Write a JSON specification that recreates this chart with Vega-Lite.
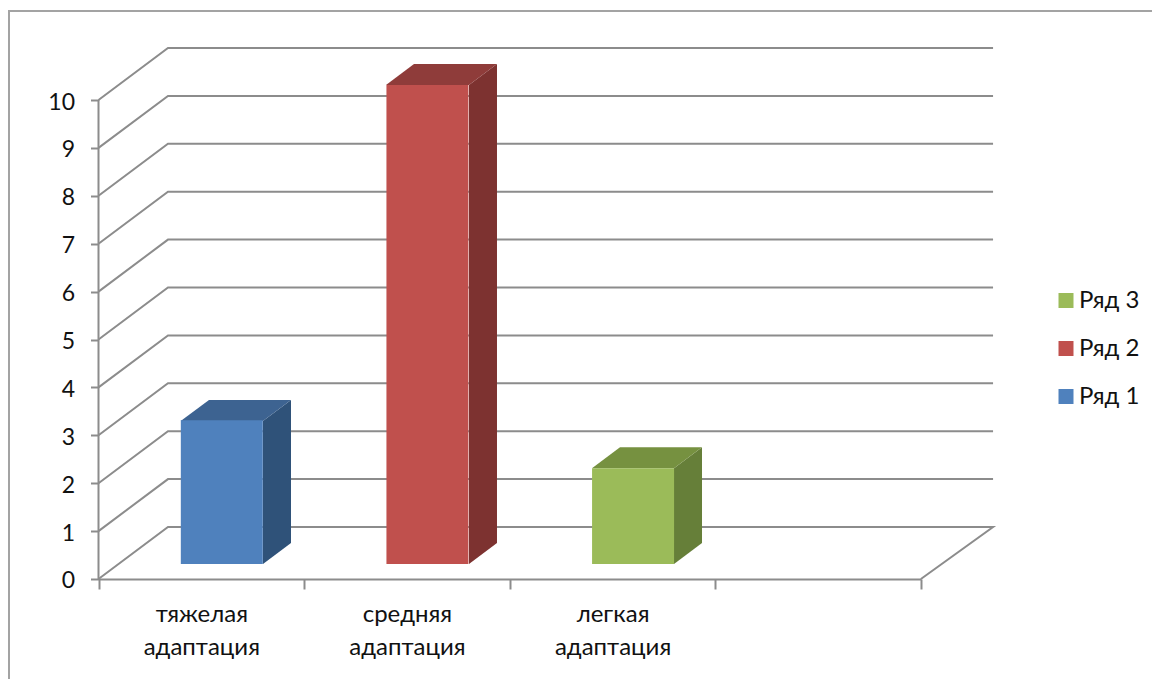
{
"$schema":"https://vega.github.io/schema/vega-lite/v6.json",
"width":1152,"height":679,"padding":0,"autosize":{"type":"none"},"background":"white",
"config":{"view":{"stroke":null},"font":"Lato"},
"datasets":{
"bars":[
{"category":"тяжелая адаптация","series":"Ряд 1","value":3},
{"category":"средняя адаптация","series":"Ряд 2","value":10},
{"category":"легкая адаптация","series":"Ряд 3","value":2}],
"frame":[{"n":1,"at":-0.4353,"level":-2.09},{"n":2,"at":-0.4353,"level":11.858},{"n":3,"at":5.124,"level":11.858}],
"grid":[
{"line":"0","n":1,"at":0,"level":0},{"line":"0","n":2,"at":0.338,"level":1.086},{"line":"0","n":3,"at":4.351,"level":1.086},{"line":"0","n":4,"at":4,"level":0},
{"line":"1","n":1,"at":0,"level":1},{"line":"1","n":2,"at":0.338,"level":2.086},{"line":"1","n":3,"at":4.351,"level":2.086},
{"line":"2","n":1,"at":0,"level":2},{"line":"2","n":2,"at":0.338,"level":3.086},{"line":"2","n":3,"at":4.351,"level":3.086},
{"line":"3","n":1,"at":0,"level":3},{"line":"3","n":2,"at":0.338,"level":4.086},{"line":"3","n":3,"at":4.351,"level":4.086},
{"line":"4","n":1,"at":0,"level":4},{"line":"4","n":2,"at":0.338,"level":5.086},{"line":"4","n":3,"at":4.351,"level":5.086},
{"line":"5","n":1,"at":0,"level":5},{"line":"5","n":2,"at":0.338,"level":6.086},{"line":"5","n":3,"at":4.351,"level":6.086},
{"line":"6","n":1,"at":0,"level":6},{"line":"6","n":2,"at":0.338,"level":7.086},{"line":"6","n":3,"at":4.351,"level":7.086},
{"line":"7","n":1,"at":0,"level":7},{"line":"7","n":2,"at":0.338,"level":8.086},{"line":"7","n":3,"at":4.351,"level":8.086},
{"line":"8","n":1,"at":0,"level":8},{"line":"8","n":2,"at":0.338,"level":9.086},{"line":"8","n":3,"at":4.351,"level":9.086},
{"line":"9","n":1,"at":0,"level":9},{"line":"9","n":2,"at":0.338,"level":10.086},{"line":"9","n":3,"at":4.351,"level":10.086},
{"line":"10","n":1,"at":0,"level":10},{"line":"10","n":2,"at":0.338,"level":11.086},{"line":"10","n":3,"at":4.351,"level":11.086},
{"line":"axis","n":1,"at":0,"level":0},{"line":"axis","n":2,"at":0,"level":10}],
"faces":[
{"face":"Ряд 1 бок","at":0.8001,"low":0.313,"high":3.299},{"face":"Ряд 1 бок","at":0.9363,"low":0.752,"high":3.737},
{"face":"Ряд 1 верх","at":0.3998,"low":3.299,"high":3.299},{"face":"Ряд 1 верх","at":0.5375,"low":3.299,"high":3.737},{"face":"Ряд 1 верх","at":0.8001,"low":3.299,"high":3.737},{"face":"Ряд 1 верх","at":0.9363,"low":3.737,"high":3.737},
{"face":"Ряд 2 бок","at":1.802,"low":0.313,"high":10.313},{"face":"Ряд 2 бок","at":1.9382,"low":0.752,"high":10.752},
{"face":"Ряд 2 верх","at":1.3984,"low":10.313,"high":10.313},{"face":"Ряд 2 верх","at":1.5345,"low":10.313,"high":10.752},{"face":"Ряд 2 верх","at":1.802,"low":10.313,"high":10.752},{"face":"Ряд 2 верх","at":1.9382,"low":10.752,"high":10.752},
{"face":"Ряд 3 бок","at":2.7992,"low":0.313,"high":2.313},{"face":"Ряд 3 бок","at":2.9354,"low":0.752,"high":2.752},
{"face":"Ряд 3 верх","at":2.4003,"low":2.313,"high":2.313},{"face":"Ряд 3 верх","at":2.5365,"low":2.313,"high":2.752},{"face":"Ряд 3 верх","at":2.7992,"low":2.313,"high":2.752},{"face":"Ряд 3 верх","at":2.9354,"low":2.752,"high":2.752}]
},
"layer":[
{"data":{"name":"frame"},"mark":{"type":"line","color":"#a3a3a3","strokeWidth":2},
"encoding":{"x":{"field":"at","type":"quantitative","axis":null,"scale":{"domain":[-0.4791,5.1241],"nice":false,"zero":false}},
"y":{"field":"level","type":"quantitative","title":null,"scale":{"domain":[-2.0877,12.0877],"nice":false,"zero":false},
"axis":{"orient":"left","offset":-98.5,"values":[0,1,2,3,4,5,6,7,8,9,10],"domain":false,"grid":false,"tickColor":"#8c8c8c","tickWidth":2,"tickSize":8,"labelFontSize":23,"labelColor":"#111111","labelPadding":16,"labelOffset":2,"title":null}},"order":{"field":"n"}}},
{"data":{"name":"grid"},"mark":{"type":"line","color":"#8c8c8c","strokeWidth":2},
"encoding":{"x":{"field":"at","type":"quantitative","axis":null,"scale":{"domain":[-0.4791,5.1241],"nice":false,"zero":false}},
"y":{"field":"level","type":"quantitative","title":null,"scale":{"domain":[-2.0877,12.0877],"nice":false,"zero":false}},"detail":{"field":"line"},"order":{"field":"n"}}},
{"data":{"name":"faces"},"mark":{"type":"area","opacity":1},
"encoding":{"x":{"field":"at","type":"quantitative","axis":null,"scale":{"domain":[-0.4791,5.1241],"nice":false,"zero":false}},
"y":{"field":"high","type":"quantitative","title":null,"scale":{"domain":[-2.0877,12.0877],"nice":false,"zero":false}},"y2":{"field":"low"},
"color":{"field":"face","type":"nominal","legend":null,"scale":{"domain":["Ряд 1 бок","Ряд 1 верх","Ряд 2 бок","Ряд 2 верх","Ряд 3 бок","Ряд 3 верх"],"range":["#2f5279","#3d6391","#7d3230","#8f3c3a","#667f39","#769140"]}}}},
{"data":{"name":"bars"},"mark":{"type":"bar","xOffset":20.5,"yOffset":-15,"width":82},
"encoding":{
"x":{"field":"category","type":"nominal","sort":null,"title":null,
"scale":{"domain":["тяжелая адаптация","средняя адаптация","легкая адаптация",""],"range":[98.5,921],"paddingInner":0,"paddingOuter":0},
"axis":{"orient":"bottom","offset":-100,"labelAngle":0,"tickBand":"extent","domain":true,"domainColor":"#8c8c8c","domainWidth":2,"tickColor":"#8c8c8c","tickWidth":2,"tickSize":10,"labelFontSize":24,"labelColor":"#111111","labelPadding":13,"labelLineHeight":33,"labelExpr":"split(datum.label,' ')","grid":false}},
"y":{"field":"value","type":"quantitative","title":null,
"scale":{"domain":[-2.0877,12.0877],"nice":false,"zero":false}},
"color":{"field":"series","type":"nominal","title":null,
"scale":{"domain":["Ряд 3","Ряд 2","Ряд 1"],"range":["#9bbb59","#c0504d","#4f81bd"]},
"legend":{"orient":"none","legendX":1054,"legendY":288.5,"symbolType":"square","symbolSize":225,"symbolStrokeWidth":0,"symbolOpacity":1,"labelFontSize":24,"labelColor":"#111111","labelOffset":1,"rowPadding":24,"title":null}}}}
],
"resolve":{"scale":{"x":"independent","color":"independent"},"axis":{"x":"independent"}}
}
